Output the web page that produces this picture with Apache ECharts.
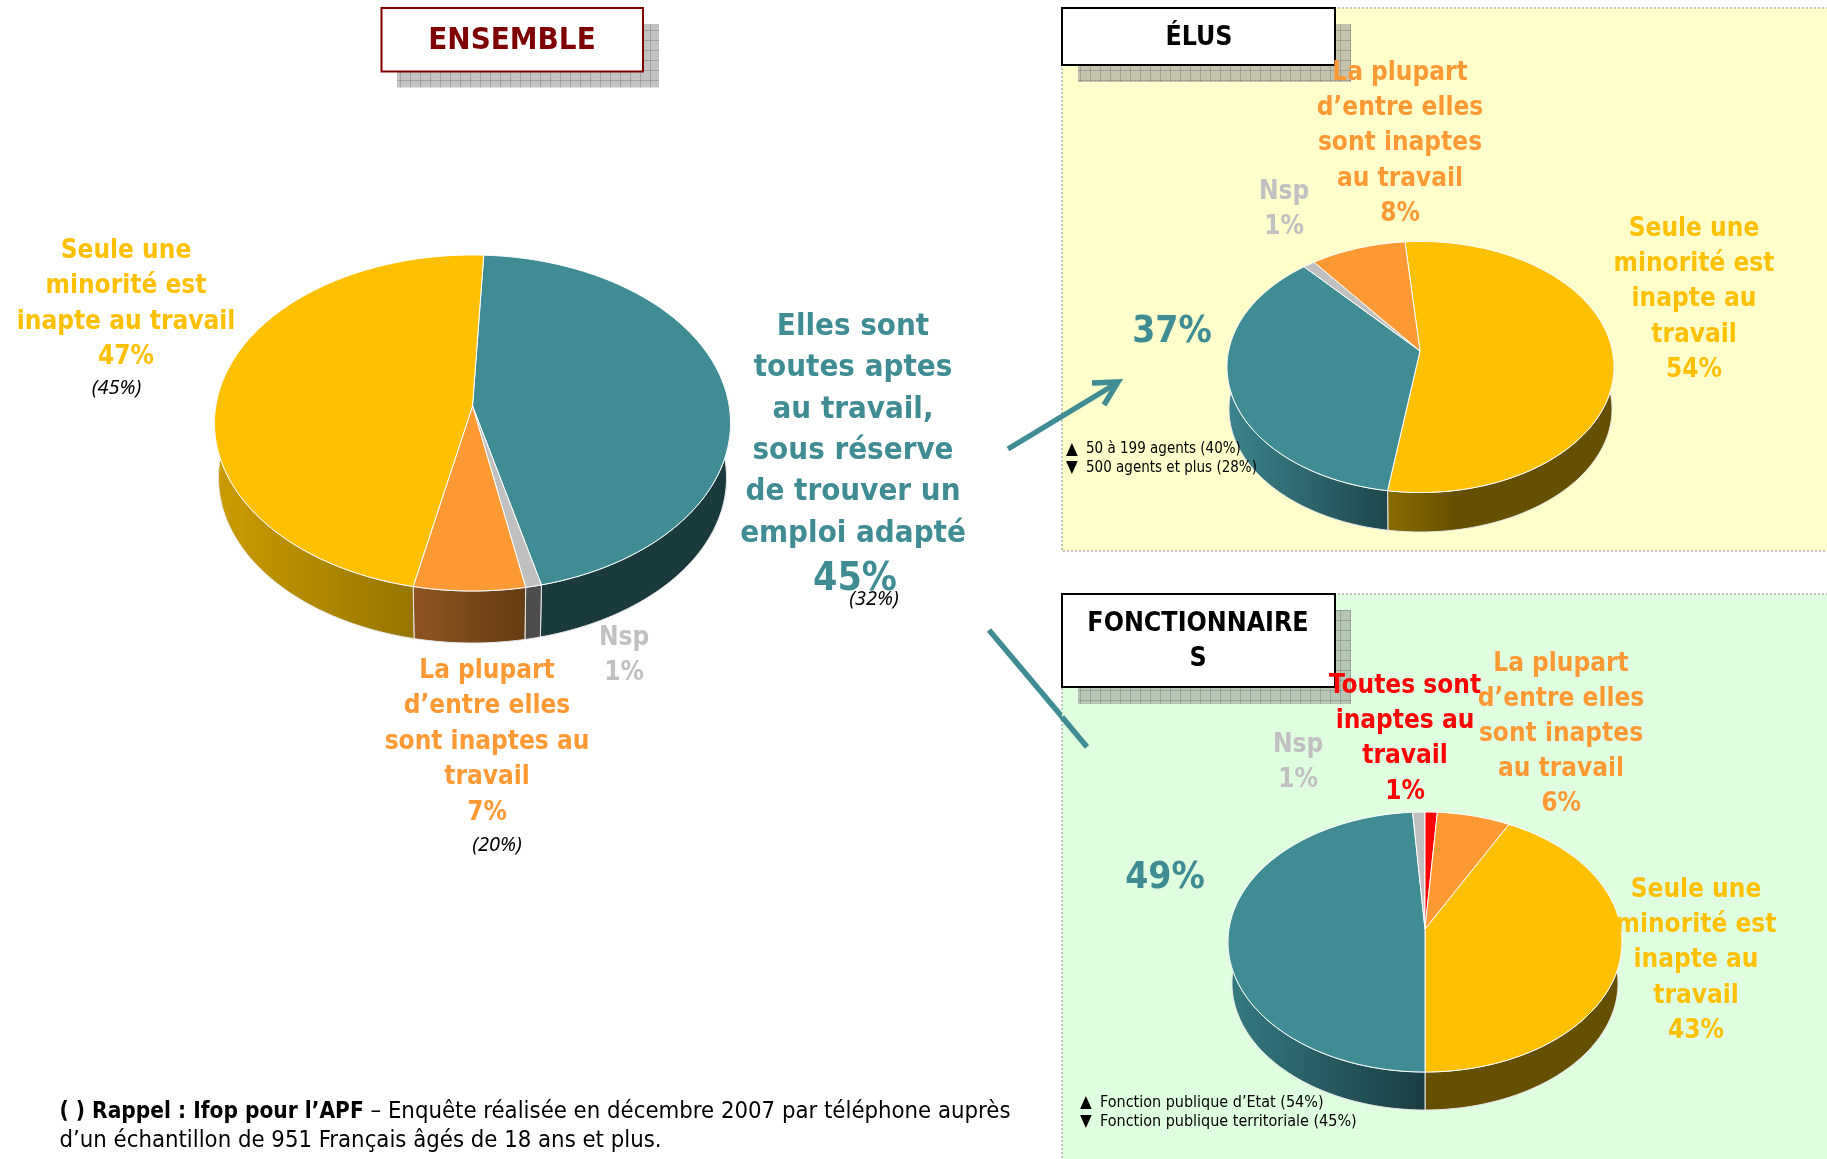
<!DOCTYPE html>
<html lang="fr">
<head>
<meta charset="utf-8">
<style>html,body{margin:0;padding:0;background:#fff}#c{width:1827px;height:1159px}</style>
<script src="https://cdn.jsdelivr.net/npm/echarts@6/dist/echarts.min.js"></script>
</head>
<body>
<div id="c"></div>
<script>
// ---- data ----
const ensembleCategories = ['Elles sont toutes aptes', 'Nsp', 'La plupart', 'Seule une minorité'];
const ensembleValues = [45, 1, 7, 47];
const elusCategories = ['Seule une minorité', 'Elles sont toutes aptes', 'Nsp', 'La plupart'];
const elusValues = [54, 37, 1, 8];
const fonctionnairesCategories = ['Seule une minorité', 'Elles sont toutes aptes', 'Nsp', 'Toutes sont inaptes', 'La plupart'];
const fonctionnairesValues = [43, 49, 1, 1, 6];

// ---- colours ----
const TEAL = '#3F8C95', YELLOW = '#FFC000', ORANGE = '#FF9933', GREY = '#C0C0C0', RED = '#FF0000';
const FONT = '"DejaVu Sans Condensed","Noto Sans",sans-serif';

// ---- pie layouts ----
const pies = [
  { values: ensembleValues, names: ensembleCategories, start: 2.5,
    cx: 472.5, cy: 423, rx: 258, ry: 168, ax: 472.5, ay: 406, brx: 254, bcy: 478, bry: 165,
    colors: [TEAL, GREY, ORANGE, YELLOW],
    sides: [['#1A3A3D', '#1A3A3D', 1], ['#4D4D4D', '#4D4D4D', 1], ['#8F5522', '#653C12', 1], ['#CC9C00', '#967500', 1]] },
  { values: elusValues, names: elusCategories, start: -4.6,
    cx: 1420.5, cy: 367, rx: 193.5, ry: 125.5, ax: 1420, ay: 351, brx: 191.5, bcy: 409, bry: 123,
    colors: [YELLOW, TEAL, GREY, ORANGE],
    sides: [['#8A6C00', '#665000', 0.3], ['#3D858D', '#1E464B', 1], ['#4D4D4D', '#4D4D4D', 1], ['#8F5522', '#653C12', 1]] },
  { values: fonctionnairesValues, names: fonctionnairesCategories, start: 25.2,
    cx: 1425, cy: 942, rx: 197, ry: 130, ax: 1425, ay: 929, brx: 193, bcy: 983, bry: 127,
    colors: [YELLOW, TEAL, GREY, RED, ORANGE],
    sides: [['#665000', '#665000', 1], ['#357A82', '#1A3C40', 1], ['#4D4D4D', '#4D4D4D', 1], ['#7F0000', '#7F0000', 1], ['#8F5522', '#653C12', 1]] }
];

function sliceRange(p, i) {
  const total = p.values.reduce((a, b) => a + b, 0);
  let a = p.start;
  for (let k = 0; k < i; k++) a += p.values[k] / total * 360;
  return [a, a + p.values[i] / total * 360];
}
function rim(cx, cy, rx, ry, deg) {
  const t = deg * Math.PI / 180;
  return [cx + rx * Math.sin(t), cy - ry * Math.cos(t)];
}
function arc(cx, cy, rx, ry, a, b) {
  const pts = [], n = Math.max(2, Math.ceil(Math.abs(b - a)));
  for (let k = 0; k <= n; k++) pts.push(rim(cx, cy, rx, ry, a + (b - a) * k / n));
  return pts;
}
function topItem(p) {
  return function (params, api) {
    const i = params.dataIndex;
    const [a, b] = sliceRange(p, i);
    return {
      type: 'polygon',
      shape: { points: [[p.ax, p.ay]].concat(arc(p.cx, p.cy, p.rx, p.ry, a, b)) },
      style: { fill: p.colors[i], stroke: '#fff', lineWidth: 1, lineJoin: 'round' }
    };
  };
}
function sideItem(p) {
  return function (params, api) {
    const i = params.dataIndex;
    const [a0, b0] = sliceRange(p, i);
    let best = null;
    // visible side lies between 82° and 278° on the rim
    [-360, 0, 360].forEach(s => {
      const a = Math.max(a0 + s, 82), b = Math.min(b0 + s, 278);
      if (b > a && (!best || b - a > best[1] - best[0])) best = [a, b];
    });
    if (!best) return null;
    const [a, b] = best;
    const pts = arc(p.cx, p.cy, p.rx, p.ry, a, b).concat(arc(p.cx, p.bcy, p.brx, p.bry, b, a));
    const [cl, cr, stop] = p.sides[i];
    return {
      type: 'polygon',
      shape: { points: pts },
      style: {
        fill: new echarts.graphic.LinearGradient(0, 0, 1, 0, [
          { offset: 0, color: cl }, { offset: stop, color: cr }, { offset: 1, color: cr }
        ]),
        stroke: '#e8e8e8', lineWidth: 1
      }
    };
  };
}
const series = [];
pies.forEach(p => {
  const data = p.values.map((v, i) => ({ name: p.names[i], value: [v] }));
  series.push({ type: 'custom', coordinateSystem: 'none', z: 5, silent: true, renderItem: sideItem(p), data });
  series.push({ type: 'custom', coordinateSystem: 'none', z: 6, silent: true, renderItem: topItem(p), data });
});

// ---- hatched shadow fill ----
function hatch(base) {
  const c = document.createElement('canvas');
  c.width = c.height = 10;
  const g = c.getContext('2d');
  g.fillStyle = base; g.fillRect(0, 0, 10, 10);
  g.fillStyle = 'rgba(110,110,110,0.18)';
  for (let y = 0; y < 10; y++) for (let x = 0; x < 10; x++) if ((x + y) % 2 === 0) g.fillRect(x, y, 1, 1);
  g.strokeStyle = 'rgba(110,110,110,0.4)'; g.lineWidth = 1;
  g.beginPath(); g.moveTo(0.5, 0); g.lineTo(0.5, 10); g.moveTo(0, 0.5); g.lineTo(10, 0.5); g.stroke();
  return { image: c, repeat: 'repeat' };
}

// ---- texts ----
function t(text, x, y, size, color, extra) {
  return {
    type: 'text', x: x, y: y, z: 20, silent: true,
    style: Object.assign({
      text: text, fill: color, font: 'bold ' + size + 'px ' + FONT,
      fontFamily: FONT, fontWeight: 'bold', fontSize: size,
      align: 'center', verticalAlign: 'middle', lineHeight: 35.5
    }, extra || {})
  };
}
function note(text, x, y) {
  return t(text, x, y, 20, '#000', { fontWeight: 'normal', fontStyle: 'italic', fontFamily: '"Noto Sans",sans-serif', font: 'italic 20px "Noto Sans",sans-serif' });
}
const DY = 2;
function block(text, x, yTop, yBottom, size, color) {
  return t(text, x, (yTop + yBottom) / 2 + DY, size, color, { lineHeight: (yBottom - yTop) / (text.split('\n').length - 1 || 1) });
}
function legendRow(mark, text, xMark, xText, y, size) {
  return [
    t(mark, xMark, y, 17, '#000', { align: 'left', fontWeight: 'normal', font: '17px ' + FONT }),
    t(text, xText, y, size, '#000', { align: 'left', fontWeight: 'normal', font: size + 'px ' + FONT })
  ];
}
const pct = (v) => v + '%';

const LS = 26;
const elements = [
  // panels
  { type: 'rect', z: 0, silent: true, shape: { x: 1062, y: 8, width: 780, height: 543 }, style: { fill: '#FFFFCC', stroke: '#8a8a8a', lineWidth: 1, lineDash: [2, 2] } },
  { type: 'line', z: 0, silent: true, shape: { x1: 989, y1: 630, x2: 1090, y2: 750 }, style: { stroke: TEAL, lineWidth: 5.5 } },
  { type: 'rect', z: 0, silent: true, shape: { x: 1062, y: 594, width: 780, height: 600 }, style: { fill: '#E0FFE0', stroke: '#8a8a8a', lineWidth: 1, lineDash: [2, 2] } },
  { type: 'line', z: 0, silent: true, shape: { x1: 1062, y1: 717, x2: 1087, y2: 747 }, style: { stroke: TEAL, lineWidth: 5.5 } },
  // arrow up
  { type: 'polyline', z: 0, silent: true, shape: { points: [[1008, 449], [1117, 383]] }, style: { stroke: TEAL, lineWidth: 5.5, fill: 'none' } },
  { type: 'polyline', z: 0, silent: true, shape: { points: [[1092, 383], [1118, 382], [1104, 405]] }, style: { stroke: TEAL, lineWidth: 5.5, fill: 'none' } },
  // title shadows
  { type: 'rect', z: 1, silent: true, shape: { x: 397, y: 24, width: 262, height: 63.5 }, style: { fill: hatch('#CCCCCC') } },
  { type: 'rect', z: 1, silent: true, shape: { x: 1078, y: 24, width: 273, height: 58 }, style: { fill: hatch('#CCCCB4') } },
  { type: 'rect', z: 1, silent: true, shape: { x: 1078, y: 610, width: 273, height: 94 }, style: { fill: hatch('#BCD0BC') } },
  // title boxes
  { type: 'rect', z: 2, silent: true, shape: { x: 381.5, y: 8, width: 261.5, height: 63.5 }, style: { fill: '#fff', stroke: '#800000', lineWidth: 2 } },
  { type: 'rect', z: 2, silent: true, shape: { x: 1062, y: 8, width: 273, height: 57 }, style: { fill: '#fff', stroke: '#000', lineWidth: 2 } },
  { type: 'rect', z: 2, silent: true, shape: { x: 1062, y: 594, width: 273, height: 93 }, style: { fill: '#fff', stroke: '#000', lineWidth: 2 } },
  // titles
  t('ENSEMBLE', 512, 41, 31, '#7F0000'),
  t('ÉLUS', 1199, 38, 26.5, '#000'),
  block('FONCTIONNAIRE\nS', 1198, 622, 657.5, 26.5, '#000'),
  // ensemble labels
  block('Seule une\nminorité est\ninapte au travail\n' + pct(ensembleValues[3]), 126, 249, 355.5, LS, YELLOW),
  note('(45%)', 116.5, 388),
  block('Elles sont\ntoutes aptes\nau travail,\nsous réserve\nde trouver un\nemploi adapté', 853, 325, 531.5, 31, TEAL),
  t(pct(ensembleValues[0]), 855, 580, 39, TEAL),
  note('(32%)', 874, 599),
  block('Nsp\n' + pct(ensembleValues[1]), 624, 636, 671, LS, GREY),
  block('La plupart\nd’entre elles\nsont inaptes au\ntravail\n' + pct(ensembleValues[2]), 487, 669, 811, LS, ORANGE),
  note('(20%)', 497, 845),
  // elus labels
  block('La plupart\nd’entre elles\nsont inaptes\nau travail\n' + pct(elusValues[3]), 1400, 71, 212, LS, ORANGE),
  block('Nsp\n' + pct(elusValues[2]), 1284, 190, 225, LS, GREY),
  block('Seule une\nminorité est\ninapte au\ntravail\n' + pct(elusValues[0]), 1694, 227, 368, LS, YELLOW),
  t(pct(elusValues[1]), 1172, 332, 37, TEAL),
  ...legendRow('▲', '50 à 199 agents (40%)', 1066, 1086, 449.5, 15),
  ...legendRow('▼', '500 agents et plus (28%)', 1066, 1086, 468, 15),
  // fonctionnaires labels
  block('Toutes sont\ninaptes au\ntravail\n' + pct(fonctionnairesValues[3]), 1405, 684, 790, LS, RED),
  block('La plupart\nd’entre elles\nsont inaptes\nau travail\n' + pct(fonctionnairesValues[4]), 1561, 662, 802, LS, ORANGE),
  block('Nsp\n' + pct(fonctionnairesValues[2]), 1298, 743, 778, LS, GREY),
  block('Seule une\nminorité est\ninapte au\ntravail\n' + pct(fonctionnairesValues[0]), 1696, 888, 1029, LS, YELLOW),
  t(pct(fonctionnairesValues[1]), 1165, 878, 37, TEAL),
  ...legendRow('▲', 'Fonction publique d’Etat (54%)', 1080, 1100, 1102.5, 16),
  ...legendRow('▼', 'Fonction publique territoriale (45%)', 1080, 1100, 1122, 16),
  // footer
  {
    type: 'text', x: 59.5, y: 1126.5, z: 20, silent: true,
    style: {
      text: '{b|( ) Rappel : Ifop pour l’APF} – Enquête réalisée en décembre 2007 par téléphone auprès\nd’un échantillon de 951 Français âgés de 18 ans et plus.',
      fill: '#000', fontFamily: FONT, fontSize: 23.7, lineHeight: 29, align: 'left', verticalAlign: 'middle',
      rich: { b: { fontWeight: 'bold', fontFamily: FONT, fontSize: 22.5, lineHeight: 29, fill: '#000' } }
    }
  }
];

const chart = echarts.init(document.getElementById('c'), null, { renderer: 'canvas' });
chart.setOption({
  animation: false,
  backgroundColor: '#fff',
  series: series,
  graphic: { elements: elements }
});
</script>
</body>
</html>
